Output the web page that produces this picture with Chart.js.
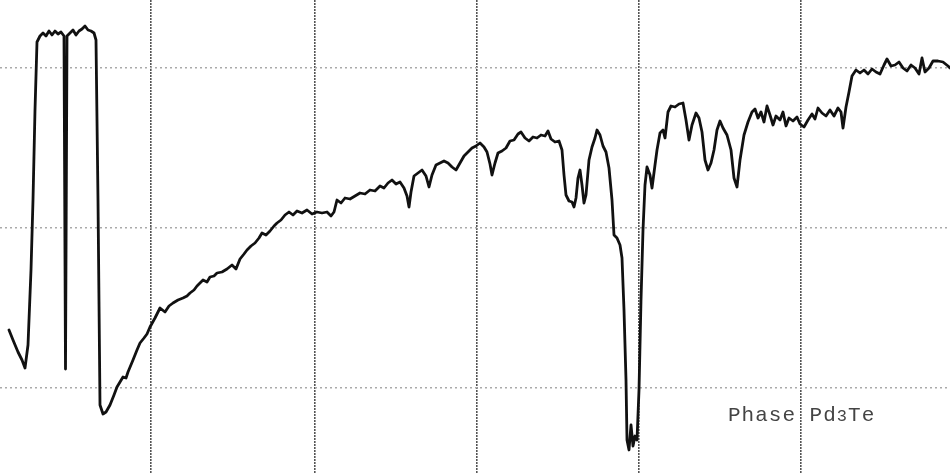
<!DOCTYPE html>
<html>
<head>
<meta charset="utf-8">
<script src="https://cdn.jsdelivr.net/npm/chart.js@4"></script>
<style>
  body { margin: 0; background: #fff; }
  #wrap { position: relative; width: 950px; height: 474px; }
  #label {
    position: absolute; left: 728px; top: 405px;
    font-family: "Liberation Mono", "DejaVu Sans Mono", monospace;
    font-size: 21px; line-height: 22px; color: #444; letter-spacing: 1px;
  }
  #label span { font-size: 17px; }
</style>
</head>
<body>
<div id="wrap">
  <canvas id="chart" width="950" height="474"></canvas>
  <div id="label">Phase Pd<span>3</span>Te</div>
</div>
<script>
// chart divisions (arbitrary scale units)
const xGrid = [15.1, 31.5, 47.7, 63.9, 80.1];
const yGrid = [8.6, 24.6, 40.6];

// trace readings
const xs = [
  0.9, 1.3, 1.8, 2.2, 2.5, 2.8, 3.1, 3.3, 3.5, 3.7,
  4.0, 4.3, 4.6, 4.9, 5.2, 5.5, 5.8, 6.1, 6.4, 6.55,
  6.7, 7.0, 7.3, 7.6, 7.9, 8.2, 8.5, 8.8, 9.1, 9.4,
  9.6, 9.8, 10.0, 10.3, 10.6, 11.0, 11.4, 11.7, 12.0, 12.3,
  12.6, 12.8, 13.3, 13.7, 14.0, 14.4, 14.7, 15.0, 15.5, 16.0,
  16.5, 16.9, 17.3, 17.8, 18.3, 18.7, 19.0, 19.4, 19.7, 20.0,
  20.3, 20.7, 21.0, 21.4, 21.7, 22.2, 22.7, 23.2, 23.6, 24.0,
  24.4, 24.7, 25.1, 25.5, 25.9, 26.2, 26.6, 27.0, 27.4, 27.7,
  28.1, 28.5, 28.9, 29.3, 29.7, 30.2, 30.7, 31.2, 31.7, 32.2,
  32.7, 33.1, 33.4, 33.7, 34.1, 34.5, 35.0, 35.5, 36.0, 36.5,
  37.0, 37.5, 38.0, 38.4, 38.8, 39.2, 39.6, 40.0, 40.4, 40.7,
  40.9, 41.1, 41.4, 41.8, 42.2, 42.6, 42.9, 43.2, 43.6, 44.0,
  44.4, 44.8, 45.2, 45.6, 46.0, 46.4, 46.8, 47.2, 47.6, 48.0,
  48.4, 48.7, 49.0, 49.2, 49.5, 49.8, 50.2, 50.6, 51.0, 51.4,
  51.8, 52.1, 52.5, 52.9, 53.3, 53.7, 54.1, 54.5, 54.8, 55.1,
  55.5, 55.9, 56.2, 56.4, 56.6, 56.9, 57.2, 57.4, 57.6, 57.8,
  58.0, 58.2, 58.4, 58.6, 58.9, 59.2, 59.5, 59.7, 60.0, 60.3,
  60.6, 60.9, 61.2, 61.4, 61.7, 62.0, 62.2, 62.4, 62.6, 62.7,
  62.9, 63.1, 63.3, 63.5, 63.7, 63.9, 64.1, 64.3, 64.5, 64.7,
  65.0, 65.2, 65.5, 65.7, 66.0, 66.3, 66.5, 66.8, 67.1, 67.5,
  67.9, 68.3, 68.6, 68.9, 69.2, 69.6, 69.9, 70.2, 70.5, 70.8,
  71.1, 71.4, 71.7, 72.0, 72.3, 72.7, 73.1, 73.4, 73.7, 74.0,
  74.4, 74.8, 75.2, 75.5, 75.8, 76.1, 76.4, 76.7, 77.0, 77.3,
  77.6, 78.0, 78.3, 78.6, 78.9, 79.3, 79.7, 80.0, 80.4, 80.8,
  81.2, 81.5, 81.8, 82.2, 82.6, 83.0, 83.4, 83.8, 84.1, 84.3,
  84.6, 84.9, 85.2, 85.6, 86.0, 86.4, 86.8, 87.2, 87.6, 88.0,
  88.4, 88.7, 89.1, 89.5, 89.9, 90.3, 90.7, 91.1, 91.5, 91.9,
  92.2, 92.5, 92.9, 93.3, 93.8, 94.3, 94.8, 95.0
];
const ys = [
  14.4, 13.4, 12.2, 11.4, 10.6, 12.9, 20.4, 27.4, 36.4, 43.2,
  43.8, 44.1, 43.8, 44.3, 43.9, 44.3, 44.0, 44.2, 43.8, 10.5,
  43.8, 44.1, 44.4, 43.9, 44.3, 44.5, 44.8, 44.4, 44.3, 44.1,
  43.4, 27.4, 6.9, 6.0, 6.2, 6.9, 7.9, 8.7, 9.2, 9.7,
  9.6, 10.2, 11.4, 12.4, 13.1, 13.6, 14.0, 14.7, 15.6, 16.6,
  16.2, 16.8, 17.1, 17.4, 17.6, 17.8, 18.1, 18.4, 18.8, 19.1,
  19.4, 19.2, 19.7, 19.8, 20.1, 20.2, 20.5, 20.9, 20.5, 21.5,
  22.0, 22.4, 22.8, 23.1, 23.6, 24.1, 23.9, 24.3, 24.8, 25.1,
  25.4, 25.9, 26.2, 25.9, 26.3, 26.1, 26.4, 26.0, 26.2, 26.1,
  26.2, 25.8, 26.2, 27.4, 27.1, 27.6, 27.5, 27.8, 28.1, 28.0,
  28.4, 28.3, 28.8, 28.6, 29.1, 29.4, 29.0, 29.2, 28.6, 27.8,
  26.7, 28.2, 29.8, 30.1, 30.4, 29.8, 28.7, 29.9, 30.9, 31.1,
  31.3, 31.1, 30.7, 30.4, 31.1, 31.8, 32.2, 32.6, 32.8, 33.1,
  32.7, 32.2, 31.0, 29.9, 31.1, 32.1, 32.3, 32.6, 33.3, 33.4,
  34.0, 34.2, 33.6, 33.3, 33.7, 33.6, 33.9, 33.8, 34.3, 33.5,
  33.2, 33.3, 32.4, 29.9, 27.9, 27.3, 27.2, 26.7, 27.6, 29.6,
  30.4, 28.9, 27.1, 27.9, 31.4, 32.7, 33.6, 34.4, 33.9, 32.8,
  32.2, 30.6, 27.4, 23.9, 23.6, 22.9, 21.6, 16.4, 9.4, 3.4,
  2.4, 4.9, 2.8, 3.8, 3.4, 8.4, 17.4, 24.4, 28.9, 30.7,
  29.9, 28.6, 30.9, 32.4, 34.1, 34.4, 33.6, 36.2, 36.8, 36.7,
  37.0, 37.1, 35.4, 33.4, 34.9, 36.1, 35.6, 34.2, 31.4, 30.4,
  31.1, 32.4, 34.4, 35.3, 34.6, 33.9, 32.4, 29.6, 28.7, 31.4,
  33.9, 35.2, 36.2, 36.5, 35.6, 36.2, 35.2, 36.8, 35.9, 34.9,
  35.8, 35.4, 36.2, 34.8, 35.6, 35.3, 35.7, 35.0, 34.7, 35.4,
  36.0, 35.5, 36.6, 36.1, 35.8, 36.4, 35.8, 36.6, 36.2, 34.6,
  36.7, 38.2, 39.8, 40.4, 40.1, 40.4, 40.0, 40.5, 40.2, 40.0,
  40.9, 41.5, 40.8, 40.9, 41.2, 40.6, 40.3, 40.9, 40.6, 40.0,
  41.6, 40.2, 40.6, 41.3, 41.3, 41.2, 40.8, 40.6
];

const points = xs.map((x, i) => ({ x: x, y: ys[i] }));

const data = {
  datasets: [{
    label: 'Pd3Te',
    data: points,
    showLine: true,
    borderColor: '#111',
    borderWidth: 2.8,
    pointRadius: 0,
    tension: 0,
    borderJoinStyle: 'round',
    borderCapStyle: 'round'
  }]
};

const options = {
  responsive: false,
  animation: false,
  layout: { padding: 0 },
  plugins: {
    legend: { display: false },
    tooltip: { enabled: false }
  },
  scales: {
    x: {
      type: 'linear',
      min: 0,
      max: 95,
      afterBuildTicks: (axis) => { axis.ticks = xGrid.map(v => ({ value: v })); },
      ticks: { display: false },
      grid: { color: '#555', lineWidth: 1.6, drawTicks: false },
      border: { display: false, dash: [2, 1] }
    },
    y: {
      type: 'linear',
      min: 0,
      max: 47.4,
      afterBuildTicks: (axis) => { axis.ticks = yGrid.map(v => ({ value: v })); },
      ticks: { display: false },
      grid: { color: '#aaa', lineWidth: 1.4, drawTicks: false },
      border: { display: false, dash: [2, 3] }
    }
  }
};

const config = {
  type: 'scatter',
  data: data,
  options: options
};

const ctx = document.getElementById('chart');
var myChart = new Chart(ctx, config);
</script>
</body>
</html>
